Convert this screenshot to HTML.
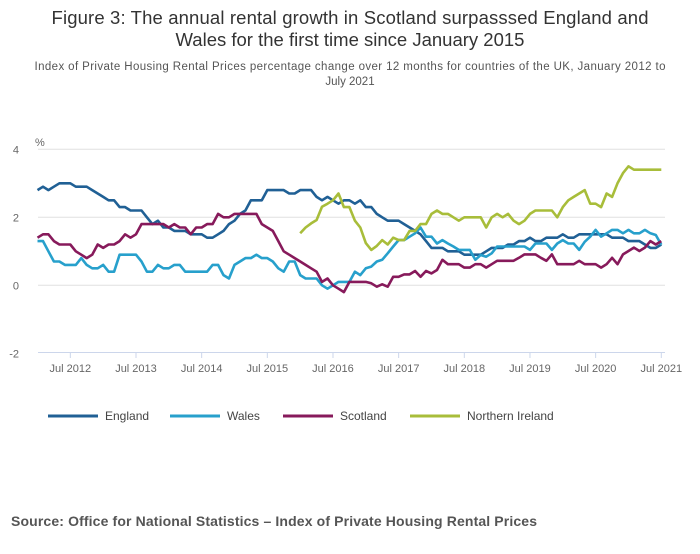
<!DOCTYPE html>
<html><head><meta charset="utf-8"><style>
body{margin:0;background:#fff;font-family:"Liberation Sans",sans-serif;}
svg text{font-family:"Liberation Sans",sans-serif;}
</style></head><body>
<svg id="c" width="700" height="549">
<text x="350" y="24" text-anchor="middle" font-size="18.5" fill="#333" textLength="597">Figure 3: The annual rental growth in Scotland surpasssed England and</text>
<text x="350" y="46" text-anchor="middle" font-size="18.5" fill="#333">Wales for the first time since January 2015</text>
<text x="350" y="70" text-anchor="middle" font-size="11.5" fill="#555" textLength="631">Index of Private Housing Rental Prices percentage change over 12 months for countries of the UK, January 2012 to</text>
<text x="350" y="85" text-anchor="middle" font-size="11.5" fill="#555">July 2021</text>
<text x="35" y="146" font-size="11" fill="#666">%</text>
<g id="grid"></g><g id="series"></g><g id="legend"></g>
<text x="11" y="526" font-size="14" font-weight="bold" fill="#555" textLength="526">Source: Office for National Statistics – Index of Private Housing Rental Prices</text>
</svg>
<script>
const yTicks=[4,2,0,-2];
const xTickLabels=["Jul 2012","Jul 2013","Jul 2014","Jul 2015","Jul 2016","Jul 2017","Jul 2018","Jul 2019","Jul 2020","Jul 2021"];
const xTickMonths=[6,18,30,42,54,66,78,90,102,114];
const seriesNames=["England","Wales","Scotland","Northern Ireland"];
const england=[2.8,2.9,2.8,2.9,3.0,3.0,3.0,2.9,2.9,2.9,2.8,2.7,2.6,2.5,2.5,2.3,2.3,2.2,2.2,2.2,2.0,1.8,1.9,1.7,1.7,1.6,1.6,1.6,1.5,1.5,1.5,1.4,1.4,1.5,1.6,1.8,1.9,2.1,2.2,2.5,2.5,2.5,2.8,2.8,2.8,2.8,2.7,2.7,2.8,2.8,2.8,2.6,2.5,2.6,2.5,2.4,2.5,2.5,2.4,2.5,
2.3,2.3,2.1,2.0,1.9,1.9,1.9,1.8,1.7,1.6,1.5,1.3,1.1,1.1,1.1,1.0,1.0,1.0,0.9,0.9,0.9,0.9,1.0,1.1,1.1,1.1,1.2,1.2,1.3,1.3,1.4,1.3,1.3,1.4,1.4,1.4,1.5,1.4,1.4,1.5,1.5,1.5,1.5,1.5,1.5,1.4,1.4,1.4,1.3,1.3,1.3,1.2,1.1,1.1,1.2];
const wales=[1.3,1.3,1.0,0.7,0.7,0.6,0.6,0.6,0.8,0.6,0.5,0.5,0.6,0.4,0.4,0.9,0.9,0.9,0.9,0.7,0.4,0.4,0.6,0.5,0.5,0.6,0.6,0.4,0.4,0.4,0.4,0.4,0.6,0.6,0.3,0.2,0.6,0.7,0.8,0.8,0.9,0.8,0.8,0.7,0.5,0.4,0.7,0.7,0.3,0.2,0.2,0.2,0.0,-0.1,0.0,0.1,0.1,0.1,0.4,0.3,
0.5,0.55,0.7,0.75,0.94,1.14,1.33,1.33,1.43,1.53,1.7,1.43,1.43,1.23,1.33,1.23,1.14,1.04,1.04,1.04,0.75,0.89,0.84,0.94,1.14,1.14,1.14,1.14,1.14,1.14,1.04,1.23,1.23,1.23,1.04,1.23,1.33,1.23,1.23,1.04,1.28,1.43,1.63,1.43,1.53,1.63,1.63,1.53,1.63,1.53,1.53,1.63,1.53,1.48,1.19];
const scotland=[1.4,1.5,1.5,1.3,1.2,1.2,1.2,1.0,0.9,0.8,0.9,1.2,1.1,1.2,1.2,1.3,1.5,1.4,1.5,1.8,1.8,1.8,1.8,1.8,1.7,1.8,1.7,1.7,1.5,1.7,1.7,1.8,1.8,2.1,2.0,2.0,2.1,2.1,2.1,2.1,2.1,1.8,1.7,1.6,1.3,1.0,0.9,0.8,0.7,0.6,0.5,0.4,0.1,0.2,0.0,-0.1,-0.2,0.1,0.1,0.1,
0.1,0.06,-0.04,0.03,-0.04,0.25,0.25,0.32,0.32,0.42,0.25,0.42,0.35,0.45,0.75,0.62,0.62,0.62,0.52,0.52,0.62,0.62,0.52,0.62,0.72,0.72,0.72,0.72,0.81,0.91,0.91,0.91,0.81,0.72,0.91,0.62,0.62,0.62,0.62,0.72,0.62,0.62,0.62,0.52,0.62,0.81,0.62,0.91,1.01,1.11,1.01,1.11,1.3,1.2,1.3];
const niStart=48;
const northernIreland=[1.53,1.7,1.82,1.92,2.31,2.4,2.5,2.7,2.3,2.3,1.9,1.7,
1.24,1.04,1.16,1.33,1.2,1.4,1.33,1.33,1.6,1.6,1.8,1.8,2.1,2.2,2.1,2.1,2.0,1.9,2.0,2.0,2.0,2.0,1.7,2.0,2.1,2.0,2.1,1.9,1.8,1.9,2.1,2.2,2.2,2.2,2.2,2.0,2.3,2.5,2.6,2.7,2.8,2.4,2.4,2.3,2.7,2.6,3.0,3.3,3.5,3.4,3.4,3.4,3.4,3.4,3.4];
const colors=["#206095","#27a0cc","#871a5b","#a8bd3a"];
const NS="http://www.w3.org/2000/svg";
const X=m=>37.5+m*(661.3-37.5)/114;
const Y=v=>285.3-v*(285.3-149.3)/4;
function mk(t,a,p){const e=document.createElementNS(NS,t);for(const k in a)e.setAttribute(k,a[k]);p.appendChild(e);return e;}
const grid=document.getElementById('grid');
yTicks.forEach(v=>{
 if(v>-2){const l=mk('line',{x1:38,x2:665,y1:Y(v),y2:Y(v),stroke:'#e0e0e0','stroke-width':1},grid);
 
 }
 const t=mk('text',{x:19,y:Y(v)+4,'font-size':11,fill:'#666','text-anchor':'end'},grid);t.textContent=v;
 
 
});
const ax=mk('line',{x1:38,x2:665,y1:352.5,y2:352.5,stroke:'#ccd6eb','stroke-width':1},grid);


xTickMonths.forEach((m,i)=>{
 const tk=mk('line',{x1:X(m),x2:X(m),y1:352.5,y2:358,stroke:'#ccd6eb'},grid);
 
 
 const t=mk('text',{x:X(m),y:372,'font-size':11,fill:'#666','text-anchor':'middle'},grid);t.textContent=xTickLabels[i];
 
 
});
const sg=document.getElementById('series');
[[england,0],[wales,0],[scotland,0],[northernIreland,niStart]].forEach(([d,s],i)=>{
 const p=mk('path',{d:d.map((v,j)=>(j?'L':'M')+X(j+s).toFixed(1)+' '+Y(v).toFixed(1)).join(''),fill:'none',stroke:colors[i],'stroke-width':2.6,'stroke-linejoin':'round'},sg);
 
 
});
const lg=document.getElementById('legend');
const lx=[48,170,283,410];
seriesNames.forEach((n,i)=>{
 const g=mk('g',{},lg);
 
 
 mk('line',{x1:lx[i],x2:lx[i]+50,y1:416,y2:416,stroke:colors[i],'stroke-width':3},g);
 const t=mk('text',{x:lx[i]+57,y:420,'font-size':12,fill:'#444'},g);t.textContent=n;
});
</script>
</body></html>
